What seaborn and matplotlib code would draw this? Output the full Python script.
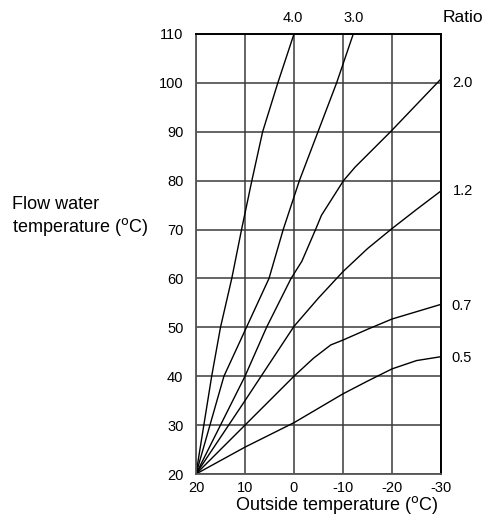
import numpy as np
import pandas as pd
from matplotlib import pyplot as plt
import seaborn as sns

# heating curves (outside temp -> flow temp)
ratios = ['0.5', '0.7', '1.2', '2.0', '3.0', '4.0']

r05_x = [20, 10, 0, -10, -15, -20, -25, -30]
r05_y = [20, 25.5, 30.5, 36.4, 39.0, 41.5, 43.2, 44.0]

r07_x = [20, 10, 0, -4, -7.5, -10, -15, -20, -30]
r07_y = [20, 30, 40, 43.7, 46.4, 47.4, 49.6, 51.7, 54.7]

r12_x = [20, 10, 0, -5, -10, -15, -20, -25, -30]
r12_y = [20, 35, 50.2, 56, 61.4, 66.1, 70.2, 74.1, 77.9]

r20_x = [20, 10, 5.6, 0.6, -1.6, -4.4, -5.6, -10.1, -12.5, -19.7, -30]
r20_y = [20, 40, 50, 60, 63.5, 70, 72.9, 80, 82.8, 90, 100.8]

r30_x = [20, 14.3, 9.7, 5.1, 2.2, -1.1, -4.9, -8.7, -12.1]
r30_y = [20, 40, 50, 60, 70, 80, 90, 100, 110]

r40_x = [20, 16.8, 15, 12.7, 10.7, 8.6, 6.4, 3.3, 0]
r40_y = [20, 40, 50, 60, 70, 80, 90, 100, 110]

x_ticks = [20, 10, 0, -10, -20, -30]
x_ticklabels = ['20', '10', '0', '-10', '-20', '-30']
y_ticks = [20, 30, 40, 50, 60, 70, 80, 90, 100, 110]

# label anchors (data coords)
label_pos = {'4.0': (0.3, 113.3), '3.0': (-12.2, 113.3),
             '2.0': (-34.4, 100.0), '1.2': (-34.5, 77.9),
             '0.7': (-34.2, 54.3), '0.5': (-34.2, 43.7)}

curves = [(r05_x, r05_y), (r07_x, r07_y), (r12_x, r12_y),
          (r20_x, r20_y), (r30_x, r30_y), (r40_x, r40_y)]
frames = []
for r, (xs, ys) in zip(ratios, curves):
    frames.append(pd.DataFrame({'outside': xs, 'flow': ys, 'ratio': r}))
df = pd.concat(frames, ignore_index=True)

sns.set_theme(style='white')
plt.rcParams['font.family'] = ['Liberation Sans', 'DejaVu Sans']
plt.rcParams['text.color'] = 'black'
plt.rcParams['axes.labelcolor'] = 'black'

fig = plt.figure(figsize=(4.89, 5.18), dpi=100)
ax = fig.add_axes([0.4008, 0.0849, 0.501, 0.8495])

sns.lineplot(data=df, x='outside', y='flow', units='ratio', estimator=None,
             sort=False, color='black', linewidth=1.0, ax=ax)

ax.set_xlim(20, -30)
ax.set_ylim(20, 110)
ax.set_xticks(x_ticks)
ax.set_xticklabels(x_ticklabels)
ax.set_yticks(y_ticks)
ax.tick_params(axis='both', length=0, labelsize=10.5, colors='black')
ax.tick_params(axis='y', pad=9)
ax.tick_params(axis='x', pad=5)

ax.grid(True, color='#3a3a3a', linewidth=1.1)
ax.set_axisbelow(True)
for side in ['left', 'bottom']:
    ax.spines[side].set_color('#555555')
    ax.spines[side].set_linewidth(1.3)
for side in ['top', 'right']:
    ax.spines[side].set_color('black')
    ax.spines[side].set_linewidth(1.4)

ax.set_xlabel('Outside temperature ($^{\\rm o}$C)', fontsize=13)
ax.xaxis.set_label_coords(0.573, -0.045)
ax.set_ylabel('Flow water\ntemperature ($^{\\rm o}$C)', fontsize=13,
              rotation=0, ha='left', va='center', multialignment='left')
ax.yaxis.set_label_coords(-0.751, 0.584)

for r in ratios:
    px, py = label_pos[r]
    ax.text(px, py, r, fontsize=10.5, ha='center', va='center', clip_on=False)
ax.text(-34.5, 113.3, 'Ratio', fontsize=12.5, ha='center', va='center',
        clip_on=False)

fig.savefig('out.png', dpi=100)
